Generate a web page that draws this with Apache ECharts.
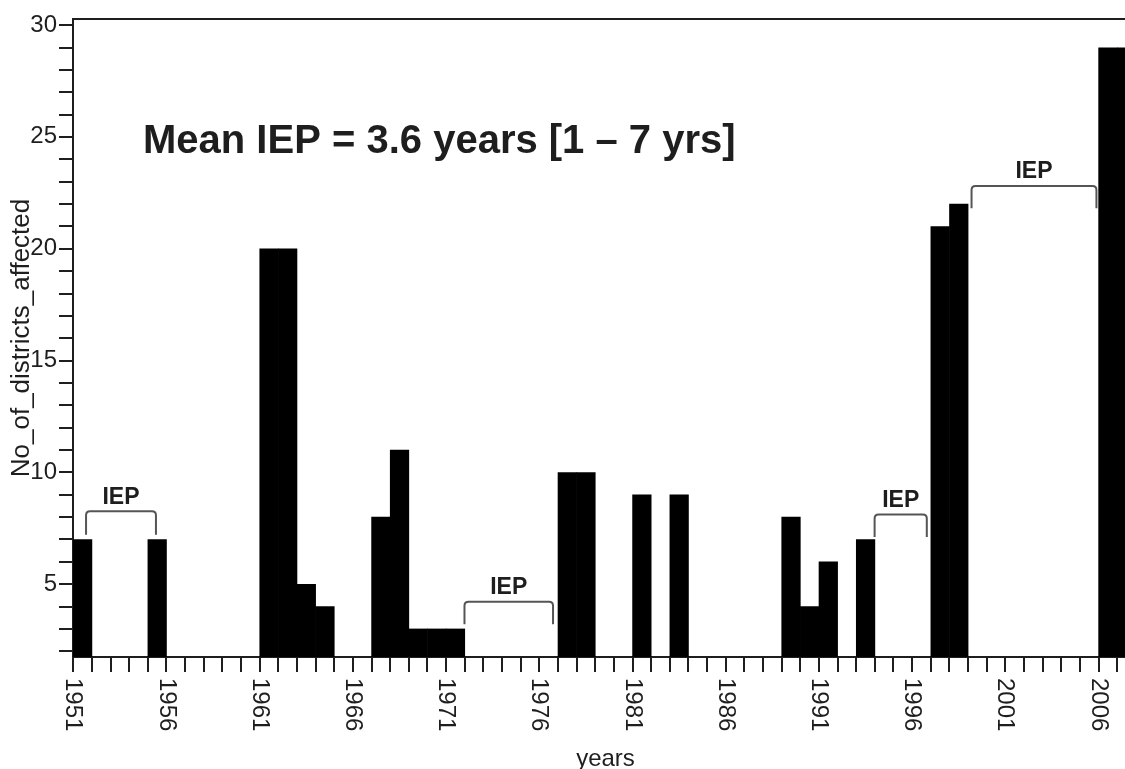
<!DOCTYPE html>
<html>
<head>
<meta charset="utf-8">
<script src="https://cdn.jsdelivr.net/npm/echarts@6/dist/echarts.min.js"></script>
<style>
  html, body { margin: 0; padding: 0; background: #fff; }
  #chart { width: 1125px; height: 769px; }
</style>
</head>
<body>
<div id="chart"></div>
<script>
// ---- data ----
const years  = [1951, 1955, 1961, 1962, 1963, 1964, 1967, 1968, 1969, 1970, 1971, 1977, 1978, 1981, 1983, 1989, 1990, 1991, 1993, 1997, 1998, 2006, 2007];
const counts = [7,    7,    20,   20,   5,    4,    8,    11,   3,    3,    3,    10,   10,   9,    9,    8,    4,    6,    7,    21,   22,   29,   29];

const xLabelYears = [1951, 1956, 1961, 1966, 1971, 1976, 1981, 1986, 1991, 1996, 2001, 2006];
const yLabelValues = [5, 10, 15, 20, 25, 30];

// inter-epidemic period (IEP) brackets: start year, end year, top level, leg bottom
const iepStart = [1951.7, 1972.0, 1994.0, 1999.2];
const iepEnd   = [1955.45, 1976.75, 1996.8, 2005.9];
const iepTop   = [8.25, 4.2, 8.1, 22.8];
const iepLow   = [7.2, 3.2, 7.1, 21.8];

const titleText = 'Mean IEP = 3.6 years [1 \u2013 7 yrs]';

// ---- axes ----
const X_MIN = 1951, X_MAX = 2007.7;
const Y_MIN = 1.73, Y_MAX = 30.27;
const xTickYears = [];
for (let y = 1951; y <= 2007; y++) xTickYears.push(y);
const yTickValues = [];
for (let v = 2; v <= 30; v++) yTickValues.push(v);

const FONT = 'Liberation Sans, Arial, Helvetica, sans-serif';
const INK = '#1e1e1e';

const chart = echarts.init(document.getElementById('chart'), null, { renderer: 'canvas' });

function clipRect(rect, params) {
  return echarts.graphic.clipRectByRect(rect, {
    x: params.coordSys.x, y: params.coordSys.y,
    width: params.coordSys.width, height: params.coordSys.height
  });
}

const option = {
  backgroundColor: '#fff',
  animation: false,
  grid: {
    left: 73, top: 19, right: -5, bottom: 112,
    containLabel: false, outerBoundsMode: 'none',
    show: true, borderColor: INK, borderWidth: 2, backgroundColor: 'transparent'
  },
  xAxis: {
    type: 'value', min: X_MIN, max: X_MAX,
    name: 'years', nameLocation: 'middle', nameGap: 90,
    nameTextStyle: { fontFamily: FONT, fontSize: 24, color: INK, padding: [0, 0, 0, 8] },
    axisLine: { show: true, onZero: false, lineStyle: { color: INK, width: 2 } },
    axisTick: { show: true, customValues: xTickYears, length: 15, lineStyle: { color: INK, width: 2 } },
    axisLabel: {
      customValues: xLabelYears, rotate: -90, margin: 21,
      formatter: function (v) { return String(v); },
      fontFamily: FONT, fontSize: 24, color: INK
    },
    splitLine: { show: false }
  },
  yAxis: {
    type: 'value', min: Y_MIN, max: Y_MAX,
    name: 'No_of_districts_affected', nameLocation: 'middle', nameGap: 38,
    nameMoveOverlap: false,
    nameTextStyle: { fontFamily: FONT, fontSize: 26, color: INK },
    axisLine: { show: true, onZero: false, lineStyle: { color: INK, width: 2 } },
    axisTick: { show: true, customValues: yTickValues, length: 14, lineStyle: { color: INK, width: 2 } },
    axisLabel: {
      customValues: yLabelValues, margin: 16,
      formatter: function (v) { return String(v); },
      fontFamily: FONT, fontSize: 24, color: INK
    },
    splitLine: { show: false }
  },
  graphic: [{
    type: 'text', left: 143, top: 122, z: 10,
    style: { text: titleText, font: 'bold 40px ' + FONT, fill: INK }
  }],
  series: [
    {
      type: 'custom',
      name: 'districts',
      data: years.map((y, i) => [y, counts[i]]),
      renderItem: function (params, api) {
        const x = api.value(0), v = api.value(1);
        const p0 = api.coord([x, Y_MIN]);
        const p1 = api.coord([x + 1, v]);
        const r = clipRect({ x: p0[0], y: p1[1], width: p1[0] - p0[0] + 0.6, height: p0[1] - p1[1] }, params);
        if (!r) return null;
        return { type: 'rect', shape: r, style: { fill: '#000' } };
      },
      z: 2
    },
    {
      type: 'custom',
      name: 'IEP',
      data: iepStart.map((s, i) => [s, iepEnd[i], iepTop[i], iepLow[i]]),
      renderItem: function (params, api) {
        const a = api.coord([api.value(0), api.value(2)]);
        const b = api.coord([api.value(1), api.value(2)]);
        const lowL = api.coord([api.value(0), api.value(3)]);
        const x1 = a[0], x2 = b[0], yt = a[1], yb = lowL[1];
        const r = 4;
        const d = 'M' + x1 + ' ' + yb + ' L' + x1 + ' ' + (yt + r) +
                  ' Q' + x1 + ' ' + yt + ' ' + (x1 + r) + ' ' + yt +
                  ' L' + (x2 - r) + ' ' + yt +
                  ' Q' + x2 + ' ' + yt + ' ' + x2 + ' ' + (yt + r) +
                  ' L' + x2 + ' ' + yb;
        return {
          type: 'group',
          children: [
            { type: 'path', shape: { pathData: d }, style: { stroke: '#555', lineWidth: 2, fill: null } },
            { type: 'text', x: (x1 + x2) / 2, y: yt - 14,
              style: { text: 'IEP', font: 'bold 23px ' + FONT, fill: INK, align: 'center', verticalAlign: 'middle' } }
          ]
        };
      },
      z: 3
    }
  ]
};

chart.setOption(option);
</script>
</body>
</html>
